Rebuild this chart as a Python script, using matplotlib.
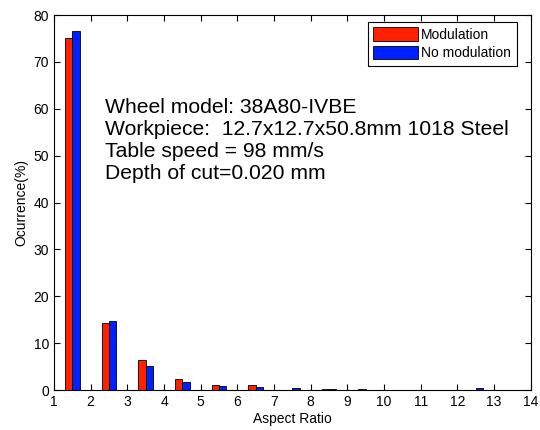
import numpy as np
import matplotlib.pyplot as plt

plt.rcParams['font.family'] = ['Liberation Sans', 'DejaVu Sans']

# bin centers of aspect ratio
bins = [1.5, 2.5, 3.5, 4.5, 5.5, 6.5, 7.5, 8.5, 9.5, 10.5, 11.5, 12.5, 13.5]
modulation = [75.0, 14.2, 6.5, 2.3, 1.1, 1.1, 0.0, 0.12, 0.3, 0.1, 0.0, 0.0, 0.0]
no_modulation = [76.5, 14.7, 5.1, 1.8, 0.9, 0.7, 0.4, 0.12, 0.0, 0.0, 0.0, 0.4, 0.0]

notes = ["Wheel model: 38A80-IVBE",
         "Workpiece:  12.7x12.7x50.8mm 1018 Steel",
         "Table speed = 98 mm/s",
         "Depth of cut=0.020 mm"]

fig = plt.figure(figsize=(5.4, 4.3), dpi=100)
ax = fig.add_axes([0.1, 0.093, 0.883, 0.872])

x = np.array(bins)
w = 0.2
ax.bar(x - w / 2, modulation, w, color='#ff2000', edgecolor='black', linewidth=0.6, label='Modulation')
ax.bar(x + w / 2, no_modulation, w, color='#0020ff', edgecolor='black', linewidth=0.6, label='No modulation')

ax.set_xlim(1, 14)
ax.set_ylim(0, 80)
ax.set_xticks(range(1, 15))
ax.set_yticks(range(0, 81, 10))
ax.tick_params(direction='in', top=True, right=True, labelsize=10, colors='black', length=4)
ax.set_xlabel('Aspect Ratio', fontsize=10, labelpad=2)
ax.set_ylabel('Ocurrence(%)', fontsize=10)

ax.text(2.4, 53.3, "\n".join(notes), fontsize=15.2, va='center', ha='left', linespacing=1.2)

leg = ax.legend(loc='upper right', fontsize=10, fancybox=False, framealpha=1,
                edgecolor='black', handlelength=3.2, handleheight=1.1,
                bbox_to_anchor=(0.97, 0.982), borderaxespad=0, borderpad=0.4,
                labelspacing=0.3, handletextpad=0.25)
leg.get_frame().set_linewidth(0.8)

fig.savefig('out.png', dpi=100)
